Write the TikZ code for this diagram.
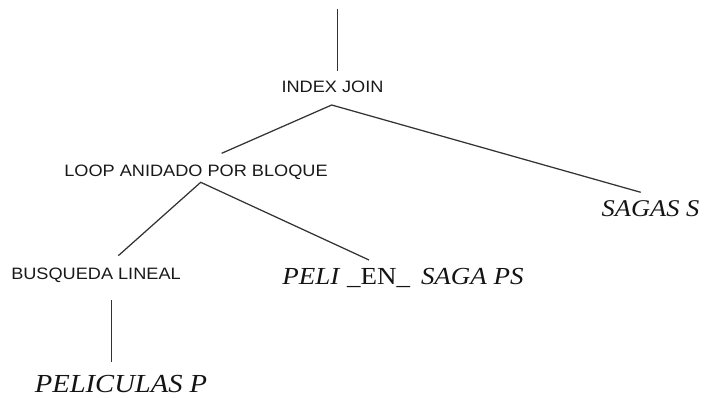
\documentclass[tikz,border=0pt]{standalone}
\usepackage{fontspec}
\setmainfont{Liberation Serif}[FakeStretch=1.1]
\setsansfont{Liberation Sans}[FakeStretch=1.1]
\begin{document}
\begin{tikzpicture}[x=1pt,y=-1pt,
  op/.style={font=\sffamily\fontsize{16.5}{18}\selectfont, text=black!90, inner sep=0pt, anchor=base},
  rel/.style={font=\rmfamily\itshape\fontsize{24}{28}\selectfont, text=black!92, inner sep=0pt, anchor=base},
  edge/.style={draw=black!80, line width=1.25pt}]
\useasboundingbox (0,0) rectangle (705,398);

% operator labels
\node[op] (ij) at (332.5,93) {INDEX JOIN};
\node[op] (loop) at (196,177) {LOOP ANIDADO POR BLOQUE};
\node[op] (busq) at (96,280) {BUSQUEDA LINEAL};

% relations (leaves)
\node[rel, font=\rmfamily\itshape\fontsize{26}{30}\selectfont] (pel) at (121,392) {PELICULAS P};
\node[rel, font=\rmfamily\itshape\fontsize{24.5}{28}\selectfont] (ps) at (403,284.7) {PELI \textup{\_EN\_}\hspace{0.45em}SAGA PS};
\node[rel] (sag) at (650.5,216.7) {SAGAS S};

% edge end points
\coordinate (root) at (337.3,9);
\coordinate (ij-top) at (337.3,71);
\coordinate (ij-bot) at (331.7,105);
\coordinate (loop-top) at (221.7,153.3);
\coordinate (sag-top) at (640.7,192.3);
\coordinate (loop-bot) at (200.7,182.3);
\coordinate (busq-top) at (118.3,255.7);
\coordinate (ps-top) at (369,260);
\coordinate (busq-bot) at (111.5,300);
\coordinate (pel-top) at (111.5,362);

% tree edges
\draw[edge] (root) -- (ij-top);
\draw[edge] (loop-top) -- (ij-bot) -- (sag-top);
\draw[edge] (busq-top) -- (loop-bot) -- (ps-top);
\draw[edge] (busq-bot) -- (pel-top);
\end{tikzpicture}
\end{document}
